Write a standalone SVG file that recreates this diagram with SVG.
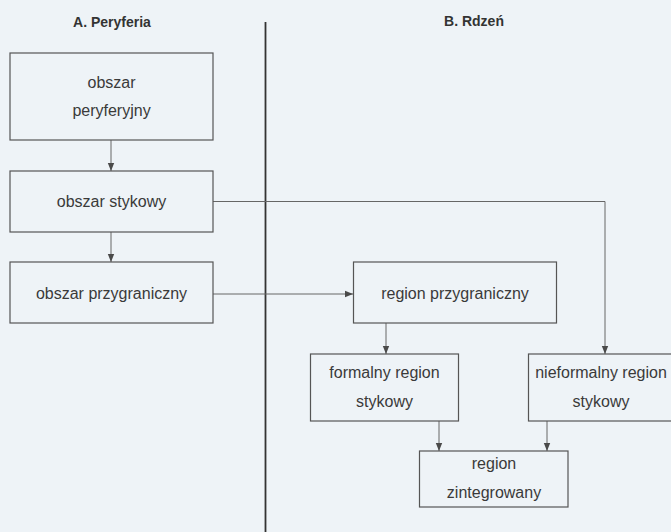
<svg xmlns="http://www.w3.org/2000/svg" width="671" height="532" viewBox="0 0 671 532">
<defs>
<marker id="ah" viewBox="0 0 10 10" refX="10" refY="5" markerWidth="9" markerHeight="8" markerUnits="userSpaceOnUse" orient="auto">
<path d="M0,1 L10,5 L0,9 z" fill="#4a4a4a"/>
</marker>
<style>
.bg{fill:#eef3f7}
.box{fill:none;stroke:#555;stroke-width:1.2}
.t{font-family:"Liberation Sans",Arial,sans-serif;font-size:16px;fill:#3a3a3a;text-anchor:middle}
.h{font-family:"Liberation Sans",Arial,sans-serif;font-size:14px;font-weight:bold;fill:#333;text-anchor:middle}
.c{fill:none;stroke:#666;stroke-width:1}
.div{stroke:#333;stroke-width:1.8}
</style>
</defs>
<rect class="bg" x="0" y="0" width="671" height="532"/>
<g id="headers">
<text class="h" x="112" y="27">A. Peryferia</text>
<text class="h" x="474" y="26">B. Rdzeń</text>
<line class="div" x1="265.5" y1="22" x2="265.5" y2="532"/>
</g>
<g id="connectors">
<line class="c" x1="111" y1="140" x2="111" y2="171" marker-end="url(#ah)"/>
<line class="c" x1="111" y1="232" x2="111" y2="262" marker-end="url(#ah)"/>
<line class="c" x1="213" y1="294" x2="353" y2="294" marker-end="url(#ah)"/>
<polyline class="c" points="213,201.5 605,201.5 605,354" marker-end="url(#ah)"/>
<line class="c" x1="386" y1="323" x2="386" y2="354" marker-end="url(#ah)"/>
<line class="c" x1="439" y1="421" x2="439" y2="451" marker-end="url(#ah)"/>
<line class="c" x1="547" y1="421" x2="547" y2="451" marker-end="url(#ah)"/>
</g>
<g id="n1">
<rect class="box" x="10" y="53" width="203" height="87"/>
<text class="t" x="111.5" y="88">obszar</text>
<text class="t" x="111.5" y="116">peryferyjny</text>
</g>
<g id="n2">
<rect class="box" x="10" y="171" width="203" height="61"/>
<text class="t" x="111.5" y="207">obszar stykowy</text>
</g>
<g id="n3">
<rect class="box" x="10" y="262" width="203" height="61"/>
<text class="t" x="111.5" y="299">obszar przygraniczny</text>
</g>
<g id="n4">
<rect class="box" x="353.5" y="262" width="203" height="61"/>
<text class="t" x="455" y="299">region przygraniczny</text>
</g>
<g id="n5">
<rect class="box" x="310.5" y="354" width="148" height="67"/>
<text class="t" x="384.5" y="378">formalny region</text>
<text class="t" x="384.5" y="407">stykowy</text>
</g>
<g id="n6">
<rect class="box" x="528.5" y="354" width="146" height="67"/>
<text class="t" x="601" y="378">nieformalny region</text>
<text class="t" x="601" y="407">stykowy</text>
</g>
<g id="n7">
<rect class="box" x="419.5" y="451" width="148.5" height="56"/>
<text class="t" x="494" y="469">region</text>
<text class="t" x="494" y="498">zintegrowany</text>
</g>
</svg>
